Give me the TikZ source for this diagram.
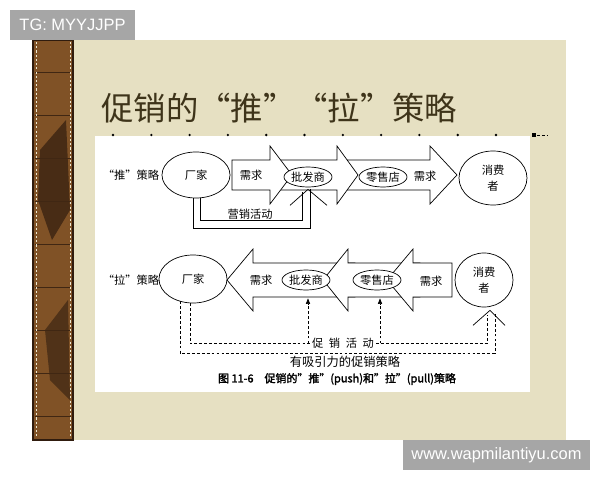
\documentclass[tikz,border=0pt]{standalone}
\usepackage{fontspec}
\setmainfont{Noto Sans CJK SC}[AutoFakeBold=2]
\newfontfamily\wmfont{Liberation Sans}
\usetikzlibrary{arrows.meta, calc, shapes.geometric}
\definecolor{paper}{RGB}{230,224,194}
\definecolor{leather}{RGB}{128,82,38}
\definecolor{leatherdark}{RGB}{48,28,14}
\definecolor{titleink}{RGB}{62,52,26}
\definecolor{tagbox}{RGB}{166,166,166}

\begin{document}
\begin{tikzpicture}[x=0.025cm, y=-0.025cm, line width=0.5pt,
  party/.style={draw, ellipse, fill=white, inner sep=0pt, align=center, font=\fontsize{8}{11}\selectfont},
  shop/.style={draw, ellipse, fill=white, inner sep=0pt, minimum width=1.2cm, minimum height=0.5cm, font=\fontsize{8}{9}\selectfont},
  bigarrow/.style={draw, fill=white, line join=miter},
  lbl/.style={font=\fontsize{8}{9}\selectfont, inner sep=1pt},
  dashloop/.style={dash pattern=on 2pt off 1.5pt},
  tag/.style={fill=tagbox, text=white, inner sep=0pt, font=\wmfont\fontsize{11.7}{13}\selectfont}]

  % slide background
  \useasboundingbox (0,0) rectangle (600,480);
  \fill[white] (0,0) rectangle (600,480);
  \fill[paper] (73,40) rectangle (566,440);
  \fill[leather] (33,40) rectangle (73,440);
  \fill[leatherdark!70!leather] (40,150) -- (66,120) -- (70,210) -- (52,240) -- (38,200) -- cycle;
  \fill[leatherdark!60!leather] (45,330) -- (68,300) -- (70,400) -- (50,380) -- cycle;
  \foreach \y in {72,115,...,416}
    \draw[leatherdark!80!leather, line width=0.4pt] (35,\y) -- (71,\y);
  \draw[leatherdark, line width=1pt] (33,40) rectangle (73,440);
  \draw[paper!70!white, dash pattern=on 1.5pt off 1.5pt] (36,42) -- (36,438) (70,42) -- (70,438);
  \fill[white] (95,136) rectangle (530,392);

  % title
  \node[anchor=west, inner sep=0pt, text=titleink, font=\fontsize{23}{24}\selectfont] (ttl) at (101,108) {促销的“推”“拉”策略};
  \foreach \x in {0,...,10}
    \fill (113+38.3*\x,135) circle (1.3);
  \fill (532,133) rectangle (536,137);
  \draw[dash pattern=on 2pt off 1.5pt] (537,135) -- (548,135);

  % push strategy
  \draw[bigarrow] (345,160) -- (430,160) -- (430,146) -- (457,175) -- (430,204) -- (430,190) -- (345,190) -- cycle;
  \draw[bigarrow] (280,160) -- (337,160) -- (337,146) -- (358,175) -- (337,204) -- (337,190) -- (280,190) -- cycle;
  \draw[bigarrow] (232,160) -- (270,160) -- (270,146) -- (292,175) -- (270,204) -- (270,190) -- (232,190) -- cycle;

  \node[lbl] (pushlbl) at (131,175) {“推”策略};
  \node[party, minimum width=1.7cm, minimum height=1.15cm] (pm) at (196,175) {厂家};
  \node[shop] (pw) at (308,177) {批发商};
  \node[shop] (pr) at (383,177) {零售店};
  \node[party, minimum width=1.7cm, minimum height=1.35cm] (pc) at (493,178) {消费\\者};
  \node[lbl] (pd1) at (251,175) {需求};
  \node[lbl] (pd2) at (425,176) {需求};

  \draw ($(pm.south)+(4,0)$) |- ($(pw.south)+(-6,33)$) -- ($(pw.south)+(-6,5)$);
  \draw ($(pm.south)+(-3,0)$) |- ($(pw.south)+(2,41)$) -- ($(pw.south)+(2,2)$);
  \draw ($(pw.south)+(-18,18)$) -- ($(pw.south)+(0,2)$) -- ($(pw.south)+(19,18)$);
  \node[lbl] (pmkt) at (250,214) {营销活动};

  % pull strategy
  \draw[bigarrow] (355,263) -- (253,263) -- (253,249) -- (227,280) -- (253,311) -- (253,297) -- (355,297) -- cycle;
  \draw[bigarrow] (420,263) -- (348,263) -- (348,249) -- (323,280) -- (348,311) -- (348,297) -- (420,297) -- cycle;
  \draw[bigarrow] (452,263) -- (413,263) -- (413,249) -- (387,280) -- (413,311) -- (413,297) -- (452,297) -- cycle;

  \node[lbl] (pulllbl) at (131,280) {“拉”策略};
  \node[party, minimum width=1.7cm, minimum height=1.2cm] (lm) at (193,279) {厂家};
  \node[shop] (lw) at (306,280) {批发商};
  \node[shop] (lr) at (377,280) {零售店};
  \node[party, minimum width=1.45cm, minimum height=1.35cm] (lc) at (484,280) {消费\\者};
  \node[lbl] (ld1) at (261,280) {需求};
  \node[lbl] (ld2) at (431,281) {需求};

  \draw[dashloop] ($(lm.south)+(-3,0)$) |- ($(lc.south)+(3,36)$) -- ($(lc.south)+(3,8)$);
  \draw[dashloop] ($(lm.south)+(-13,-2)$) |- ($(lc.south)+(11,46)$) -- ($(lc.south)+(11,5)$);
  \draw ($(lc.south)+(-11,18)$) -- ($(lc.south)+(6,3)$) -- ($(lc.south)+(21,18)$);
  \node[lbl, fill=white] (lpromo) at (343,343) {促\hspace{4pt}销\hspace{4pt}活\hspace{4pt}动};
  \draw[dashloop, -{Triangle[length=4pt, width=3pt]}] ($(lw.south)+(2,53)$) -- ($(lw.south)+(2,8)$);
  \draw[dashloop, -{Triangle[length=4pt, width=3pt]}] ($(lr.south)+(3,53)$) -- ($(lr.south)+(3,8)$);
  \node[lbl, font=\fontsize{8.7}{10}\selectfont] (lattr) at (345,362) {有吸引力的促销策略};

  % caption
  \node[lbl, font=\fontsize{7.8}{9}\selectfont\bfseries] (cap) at (337,379) {图 11-6\quad 促销的\symbol{"22}推\symbol{"22}(push)和\symbol{"22}拉\symbol{"22}(pull)策略};

  % watermarks
  \node[tag, minimum width=3.125cm, minimum height=0.75cm] (tg) at (72.5,25) {TG: MYYJJPP};
  \node[tag, minimum width=4.675cm, minimum height=0.75cm] (url) at (496.5,455) {www.wapmilantiyu.com};
\end{tikzpicture}
\end{document}
